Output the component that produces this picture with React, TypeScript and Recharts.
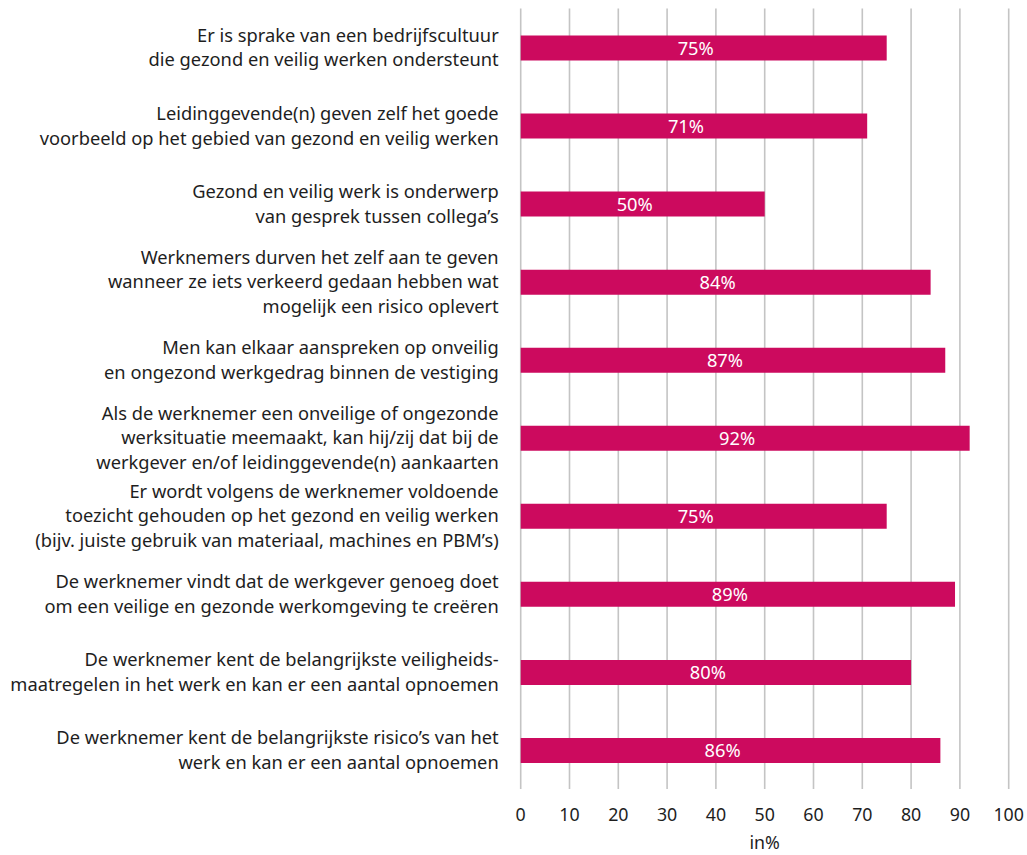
import React from "react";
import { BarChart, Bar, XAxis, YAxis, CartesianGrid, LabelList } from "recharts";

const categories: string[] = [
  "Er is sprake van een bedrijfscultuur\ndie gezond en veilig werken ondersteunt",
  "Leidinggevende(n) geven zelf het goede\nvoorbeeld op het gebied van gezond en veilig werken",
  "Gezond en veilig werk is onderwerp\nvan gesprek tussen collega’s",
  "Werknemers durven het zelf aan te geven\nwanneer ze iets verkeerd gedaan hebben wat\nmogelijk een risico oplevert",
  "Men kan elkaar aanspreken op onveilig\nen ongezond werkgedrag binnen de vestiging",
  "Als de werknemer een onveilige of ongezonde\nwerksituatie meemaakt, kan hij/zij dat bij de\nwerkgever en/of leidinggevende(n) aankaarten",
  "Er wordt volgens de werknemer voldoende\ntoezicht gehouden op het gezond en veilig werken\n(bijv. juiste gebruik van materiaal, machines en PBM’s)",
  "De werknemer vindt dat de werkgever genoeg doet\nom een veilige en gezonde werkomgeving te creëren",
  "De werknemer kent de belangrijkste veiligheids-\nmaatregelen in het werk en kan er een aantal opnoemen",
  "De werknemer kent de belangrijkste risico’s van het\nwerk en kan er een aantal opnoemen",
];

const values: number[] = [75, 71, 50, 84, 87, 92, 75, 89, 80, 86];

const xTicks: number[] = [0, 10, 20, 30, 40, 50, 60, 70, 80, 90, 100];

const data = categories.map((c, i) => ({ category: c, value: values[i] }));

const FONT = "'Noto Sans', 'Open Sans', sans-serif";
const TEXT = "#1e1e1e";
const BAR = "#cc0a5e";
const FS = 17.8;
const FS_CAT = 18.3;

const CategoryTick = (props: any) => {
  const { x, y, payload } = props;
  const lines: string[] = String(payload.value).split("\n");
  const lh = 24.7;
  const start = -((lines.length - 1) * lh) / 2;
  return (
    <text x={x} y={y} textAnchor="end" fill={TEXT} fontSize={FS_CAT} fontFamily={FONT}>
      {lines.map((l, i) => (
        <tspan key={i} x={x} y={y + start + i * lh} dy="0.36em">
          {l}
        </tspan>
      ))}
    </text>
  );
};

const ValueLabel = (props: any) => {
  const { x, y, width, height, value } = props;
  return (
    <text
      x={x + width / 2 - 8}
      y={y + height / 2}
      dy="0.36em"
      textAnchor="middle"
      fill="#ffffff"
      fontSize={FS_CAT}
      fontFamily={FONT}
    >
      {value}%
    </text>
  );
};

const XLabel = (props: any) => {
  const { viewBox } = props;
  return (
    <text
      x={viewBox.x + viewBox.width / 2}
      y={viewBox.y + 54}
      dy="0.36em"
      textAnchor="middle"
      fill={TEXT}
      fontSize={FS}
      fontFamily={FONT}
    >
      in%
    </text>
  );
};

export default function App() {
  return (
    <div
      style={{
        position: "absolute",
        left: 0,
        top: 0,
        width: 1027,
        height: 855,
        background: "#fff",
      }}
    >
      <style>{"html,body{overflow:hidden;}"}</style>
      <BarChart
        width={1027}
        height={855}
        data={data}
        layout="vertical"
        margin={{ top: 8.5, right: 18.3, left: 0, bottom: 0 }}
        barCategoryGap={0}
      >
        <CartesianGrid horizontal={false} vertical={true} stroke="#c4c4c4" strokeWidth={1.6} />
        <XAxis
          type="number"
          domain={[0, 100]}
          ticks={xTicks}
          axisLine={false}
          tickLine={false}
          tickSize={0}
          tickMargin={19}
          height={66}
          interval={0}
          tick={{ fill: TEXT, fontSize: FS, fontFamily: FONT }}
          label={<XLabel />}
        />
        <YAxis
          type="category"
          dataKey="category"
          width={520.7}
          axisLine={false}
          tickLine={false}
          tickSize={0}
          tickMargin={22}
          interval={0}
          tick={<CategoryTick />}
        />
        <Bar dataKey="value" fill={BAR} barSize={25} isAnimationActive={false}>
          <LabelList dataKey="value" content={<ValueLabel />} />
        </Bar>
      </BarChart>
    </div>
  );
}
